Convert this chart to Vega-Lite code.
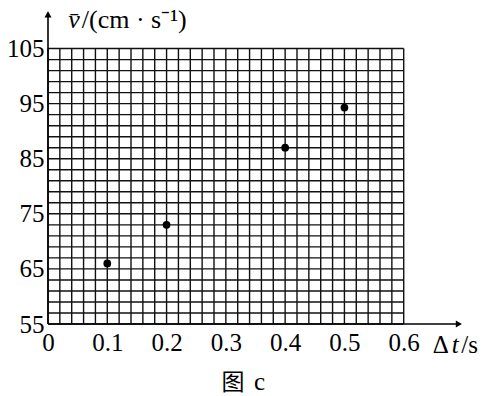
{
  "$schema": "https://vega.github.io/schema/vega-lite/v6.json",
  "width": 415,
  "height": 314,
  "autosize": "none",
  "padding": {"left": 48, "top": 10, "right": 24, "bottom": 72},
  "background": "white",
  "config": {"view": {"stroke": null}, "axis": {"labelFont": "Liberation Serif", "labelFontSize": 25, "labelColor": "#000"}},
  "datasets": {
    "points": [
      {"t": 0.1, "v": 66},
      {"t": 0.2, "v": 73},
      {"t": 0.4, "v": 87},
      {"t": 0.5, "v": 94.3}
    ],
    "vgrid": [
      {"x": 0}, {"x": 0.02}, {"x": 0.04}, {"x": 0.06}, {"x": 0.08}, {"x": 0.1},
      {"x": 0.12}, {"x": 0.14}, {"x": 0.16}, {"x": 0.18}, {"x": 0.2},
      {"x": 0.22}, {"x": 0.24}, {"x": 0.26}, {"x": 0.28}, {"x": 0.3},
      {"x": 0.32}, {"x": 0.34}, {"x": 0.36}, {"x": 0.38}, {"x": 0.4},
      {"x": 0.42}, {"x": 0.44}, {"x": 0.46}, {"x": 0.48}, {"x": 0.5},
      {"x": 0.52}, {"x": 0.54}, {"x": 0.56}, {"x": 0.58}, {"x": 0.6}
    ],
    "hgrid": [
      {"y": 55}, {"y": 57}, {"y": 59}, {"y": 61}, {"y": 63}, {"y": 65},
      {"y": 67}, {"y": 69}, {"y": 71}, {"y": 73}, {"y": 75},
      {"y": 77}, {"y": 79}, {"y": 81}, {"y": 83}, {"y": 85},
      {"y": 87}, {"y": 89}, {"y": 91}, {"y": 93}, {"y": 95},
      {"y": 97}, {"y": 99}, {"y": 101}, {"y": 103}, {"y": 105}
    ]
  },
  "layer": [
    {
      "data": {"name": "vgrid"},
      "mark": {"type": "rule", "stroke": "#111", "strokeWidth": 1.4},
      "encoding": {
        "x": {"field": "x", "type": "quantitative",
              "scale": {"domain": [0, 0.7], "nice": false, "zero": false},
              "axis": {"values": [0, 0.1, 0.2, 0.3, 0.4, 0.5, 0.6], "format": ".1~f",
                       "domain": false, "ticks": false, "grid": false, "title": null,
                       "labelFont": "Liberation Serif", "labelFontSize": 25, "labelColor": "#000",
                       "labelPadding": 6, "labelFlush": false, "labelOverlap": false}},
        "y": {"datum": 55, "type": "quantitative",
              "scale": {"domain": [55, 112], "nice": false, "zero": false},
              "axis": {"values": [55, 65, 75, 85, 95, 105],
                       "domain": false, "ticks": false, "grid": false, "title": null,
                       "labelFont": "Liberation Serif", "labelFontSize": 25, "labelColor": "#000",
                       "labelPadding": 4, "labelFlush": false, "labelOverlap": false}},
        "y2": {"datum": 105}
      }
    },
    {
      "data": {"name": "hgrid"},
      "mark": {"type": "rule", "stroke": "#111", "strokeWidth": 1.4},
      "encoding": {
        "y": {"field": "y", "type": "quantitative"},
        "x": {"datum": 0, "type": "quantitative"},
        "x2": {"datum": 0.6}
      }
    },
    {
      "data": {"values": [{}]},
      "mark": {"type": "rule", "stroke": "#000", "strokeWidth": 1.6},
      "encoding": {
        "x": {"datum": 0, "type": "quantitative"},
        "y": {"datum": 55, "type": "quantitative"},
        "y2": {"datum": 111.5}
      }
    },
    {
      "data": {"values": [{}]},
      "mark": {"type": "rule", "stroke": "#000", "strokeWidth": 1.6},
      "encoding": {
        "x": {"datum": 0, "type": "quantitative"},
        "x2": {"datum": 0.695},
        "y": {"datum": 55, "type": "quantitative"}
      }
    },
    {
      "data": {"values": [{}]},
      "mark": {"type": "point", "shape": "triangle-up", "filled": true, "color": "#000", "size": 50, "opacity": 1},
      "encoding": {
        "x": {"datum": 0, "type": "quantitative"},
        "y": {"datum": 111.2, "type": "quantitative"}
      }
    },
    {
      "data": {"values": [{}]},
      "mark": {"type": "point", "shape": "triangle-right", "filled": true, "color": "#000", "size": 50, "opacity": 1},
      "encoding": {
        "x": {"datum": 0.693, "type": "quantitative"},
        "y": {"datum": 55, "type": "quantitative"}
      }
    },
    {
      "data": {"name": "points"},
      "mark": {"type": "circle", "color": "#000", "size": 60, "opacity": 1},
      "encoding": {
        "x": {"field": "t", "type": "quantitative"},
        "y": {"field": "v", "type": "quantitative"}
      }
    },
    {
      "data": {"values": [{}]},
      "mark": {"type": "text", "text": "v̄", "font": "Liberation Serif", "fontStyle": "italic", "fontSize": 26, "align": "left", "baseline": "middle", "color": "#000"},
      "encoding": {
        "x": {"datum": 0.034, "type": "quantitative"},
        "y": {"datum": 110.2, "type": "quantitative"}
      }
    },
    {
      "data": {"values": [{}]},
      "mark": {"type": "text", "text": "/(cm · s⁻¹)", "font": "Liberation Serif", "fontSize": 26, "align": "left", "baseline": "middle", "color": "#000"},
      "encoding": {
        "x": {"datum": 0.057, "type": "quantitative"},
        "y": {"datum": 110.2, "type": "quantitative"}
      }
    },
    {
      "data": {"values": [{}]},
      "mark": {"type": "text", "text": "Δ", "font": "Liberation Serif", "fontSize": 25, "align": "left", "baseline": "middle", "color": "#000"},
      "encoding": {
        "x": {"datum": 0.649, "type": "quantitative"},
        "y": {"datum": 51.2, "type": "quantitative"}
      }
    },
    {
      "data": {"values": [{}]},
      "mark": {"type": "text", "text": "t", "font": "Liberation Serif", "fontStyle": "italic", "fontSize": 25, "align": "left", "baseline": "middle", "color": "#000"},
      "encoding": {
        "x": {"datum": 0.681, "type": "quantitative"},
        "y": {"datum": 51.2, "type": "quantitative"}
      }
    },
    {
      "data": {"values": [{}]},
      "mark": {"type": "text", "text": "/s", "font": "Liberation Serif", "fontSize": 25, "align": "left", "baseline": "middle", "color": "#000"},
      "encoding": {
        "x": {"datum": 0.697, "type": "quantitative"},
        "y": {"datum": 51.2, "type": "quantitative"}
      }
    },
    {
      "data": {"values": [{}]},
      "mark": {"type": "text", "text": "图", "font": "Noto Sans CJK SC", "fontSize": 23, "align": "center", "baseline": "middle", "color": "#000"},
      "encoding": {
        "x": {"datum": 0.312, "type": "quantitative"},
        "y": {"datum": 44.3, "type": "quantitative"}
      }
    },
    {
      "data": {"values": [{}]},
      "mark": {"type": "text", "text": "c", "font": "Liberation Serif", "fontSize": 25, "align": "center", "baseline": "middle", "color": "#000"},
      "encoding": {
        "x": {"datum": 0.357, "type": "quantitative"},
        "y": {"datum": 44.5, "type": "quantitative"}
      }
    }
  ]
}
